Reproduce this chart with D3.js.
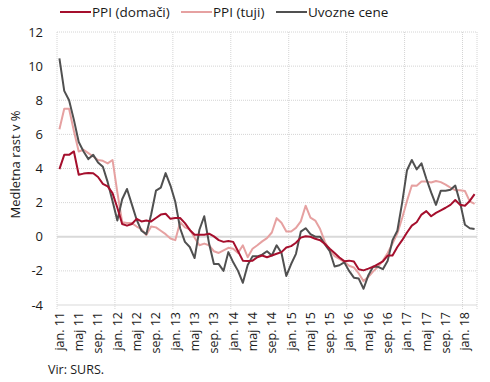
<!DOCTYPE html>
<html>
<head>
<meta charset="utf-8">
<script src="https://cdn.jsdelivr.net/npm/d3@7"></script>
<style>
  html, body { margin: 0; padding: 0; background: #fff; }
  svg { display: block; font-family: "Open Sans", sans-serif; }
</style>
</head>
<body>
<svg id="chart" width="490" height="382"></svg>
<script>
// Monthly categories jan 2011 .. mar 2018
const monthNames = ["jan.", "feb.", "mar.", "apr.", "maj", "jun.", "jul.", "avg.", "sep.", "okt.", "nov.", "dec."];
const years = [11, 12, 13, 14, 15, 16, 17, 18];
const categories = [];
years.forEach(y => monthNames.forEach((m, k) => { if (y < 18 || k < 3) categories.push(m + " " + y); }));

const seriesNames = ["PPI (domači)", "PPI (tuji)", "Uvozne cene"];

const ppiDomaci = [
  3.96, 4.8, 4.8, 5.0, 3.63, 3.7, 3.73, 3.72, 3.5, 3.1, 2.95, 2.56,
  1.7, 0.75, 0.65, 0.75, 1.05, 0.9, 0.95, 0.9, 1.1, 1.3, 1.35, 1.05,
  1.1, 1.1, 0.8, 0.4, 0.12, 0.12, 0.12, 0.18, 0.02, -0.2, -0.3, -0.25,
  -0.3, -0.85, -1.4, -1.42, -1.4, -1.2, -1.1, -1.2, -1.1, -1.0, -0.9, -0.63,
  -0.55, -0.35, -0.05, 0.03, 0.0, -0.12, -0.2, -0.42, -0.7, -0.95, -1.22, -1.43,
  -1.4, -1.45, -1.9, -1.97, -1.87, -1.76, -1.6, -1.45, -1.1, -1.1, -0.6, -0.2,
  0.25, 0.65, 0.85, 1.3, 1.5, 1.2, 1.4, 1.55, 1.7, 1.87, 2.15, 1.87,
  1.82, 2.1, 2.5
];

const ppiTuji = [
  6.3, 7.5, 7.5, 6.2, 5.0, 5.1, 4.9, 4.7, 4.5, 4.45, 4.3, 4.5,
  2.6, 0.85, 0.8, 0.8, 0.6, 0.45, 0.1, 0.6, 0.55, 0.35, 0.15, -0.1,
  -0.2, 0.85, 0.55, 0.43, -0.05, -0.5, -0.4, -0.5, -0.85, -0.95, -0.8, -0.65,
  -0.7, -0.95, -0.5, -1.2, -0.7, -0.5, -0.27, -0.08, 0.25, 1.09, 0.82, 0.31,
  0.31, 0.52, 0.9, 1.82, 1.12, 0.95, 0.45, -0.3, -0.8, -1.13, -1.3, -1.47,
  -1.7, -1.8, -2.15, -2.6, -2.35, -2.03, -1.76, -1.4, -0.95, -0.4, 0.2, 1.1,
  2.1, 3.0, 2.99, 3.24, 3.24, 3.18, 3.27, 3.2, 3.05, 2.88, 2.73, 2.72,
  2.68, 2.07, 1.93
];

const uvozneCene = [
  10.45, 8.55, 8.0, 6.85, 5.55, 5.0, 4.55, 4.8, 4.35, 4.1, 3.2, 2.1,
  0.95, 2.2, 2.8, 1.9, 1.0, 0.35, 0.15, 1.3, 2.7, 2.88, 3.73, 3.0,
  2.05, 0.5, -0.3, -0.6, -1.25, 0.41, 1.2, -0.4, -1.6, -1.6, -2.0, -0.9,
  -1.5, -2.0, -2.7, -1.65, -1.15, -1.15, -1.05, -0.85, -1.1, -0.5, -0.95, -2.3,
  -1.6, -1.0, 0.3, 0.5, 0.15, 0.0, 0.0, -0.45, -0.85, -1.74, -1.67, -1.5,
  -2.0, -2.4, -2.45, -3.05, -2.25, -1.74, -1.76, -1.9, -1.4, -0.2, 0.35, 2.0,
  3.9, 4.5, 3.95, 4.3, 3.4, 2.6, 1.87, 2.7, 2.7, 2.75, 3.0, 2.0,
  0.7, 0.5, 0.45
];

const yTicks = [-4, -2, 0, 2, 4, 6, 8, 10, 12];
const yTitle = "Medletna rast v %";
const sourceText = "Vir: SURS.";
const colors = ["#A50F2D", "#E6A1A1", "#505050"];

const svg = d3.select("#chart");
const m = { left: 57, right: 477, top: 32, bottom: 305 };

const x = d3.scaleBand().domain(categories).range([m.left, m.right]).paddingInner(0).paddingOuter(0);
const y = d3.scaleLinear().domain([-4, 12]).range([m.bottom, m.top]);
const cx = c => x(c) + x.bandwidth() / 2;

// horizontal gridlines
const gy = svg.append("g").attr("class", "grid-y");
yTicks.forEach(t => {
  gy.append("line")
    .attr("x1", m.left).attr("x2", m.right)
    .attr("y1", y(t)).attr("y2", y(t))
    .attr("stroke", t === 0 || t === -4 ? "#d9d9d9" : "#d4d4d4")
    .attr("stroke-width", t === 0 ? 2 : 1)
    .attr("stroke-dasharray", t === 0 || t === -4 ? null : "1,1");
});

// vertical gridlines every 12 months (category boundaries) + right edge
const gx = svg.append("g").attr("class", "grid-x");
const vlines = categories.filter((c, i) => i % 12 === 0).map(c => x(c)).concat([m.right]);
vlines.forEach(v => {
  gx.append("line")
    .attr("x1", v).attr("x2", v)
    .attr("y1", m.top).attr("y2", m.bottom + 4)
    .attr("stroke", "#d4d4d4")
    .attr("stroke-width", 1)
    .attr("stroke-dasharray", "1,1");
});

// y tick labels
svg.append("g").selectAll("text").data(yTicks).join("text")
  .attr("x", 43).attr("y", d => y(d)).attr("dy", "0.35em")
  .attr("text-anchor", "end")
  .attr("font-size", 13).attr("fill", "#1a1a1a")
  .text(d => d);

// x tick labels every 4 months
svg.append("g").selectAll("text").data(categories.filter((c, i) => i % 4 === 0)).join("text")
  .attr("transform", d => `translate(${cx(d)},${m.bottom + 7}) rotate(-90)`)
  .attr("dy", "0.35em")
  .attr("text-anchor", "end")
  .attr("font-size", 12.5).attr("fill", "#1a1a1a")
  .text(d => d);

// y title
svg.append("text")
  .attr("transform", `translate(15,${(m.top + m.bottom) / 2 - 4}) rotate(-90)`)
  .attr("text-anchor", "middle").attr("dy", "0.35em")
  .attr("font-size", 13).attr("fill", "#1a1a1a")
  .text(yTitle);

// lines
const line = d3.line().x((d, i) => cx(categories[i])).y(d => y(d));
const allSeries = [ppiDomaci, ppiTuji, uvozneCene];
const drawOrder = [1, 2, 0];
drawOrder.forEach(k => {
  svg.append("path")
    .datum(allSeries[k])
    .attr("d", line)
    .attr("fill", "none")
    .attr("stroke", colors[k])
    .attr("stroke-width", 2)
    .attr("stroke-linejoin", "round");
});

// legend
const legendX = [60, 181, 276];
const lg = svg.append("g");
seriesNames.forEach((n, k) => {
  lg.append("line")
    .attr("x1", legendX[k]).attr("x2", legendX[k] + 31)
    .attr("y1", 12).attr("y2", 12)
    .attr("stroke", colors[k]).attr("stroke-width", 2);
  lg.append("text")
    .attr("x", legendX[k] + 32).attr("y", 12).attr("dy", "0.35em")
    .attr("font-size", 13.5).attr("fill", "#1a1a1a")
    .text(n);
});

// source
svg.append("text")
  .attr("x", 48).attr("y", 374)
  .attr("font-size", 12.5).attr("fill", "#1a1a1a")
  .text(sourceText);
</script>
</body>
</html>
